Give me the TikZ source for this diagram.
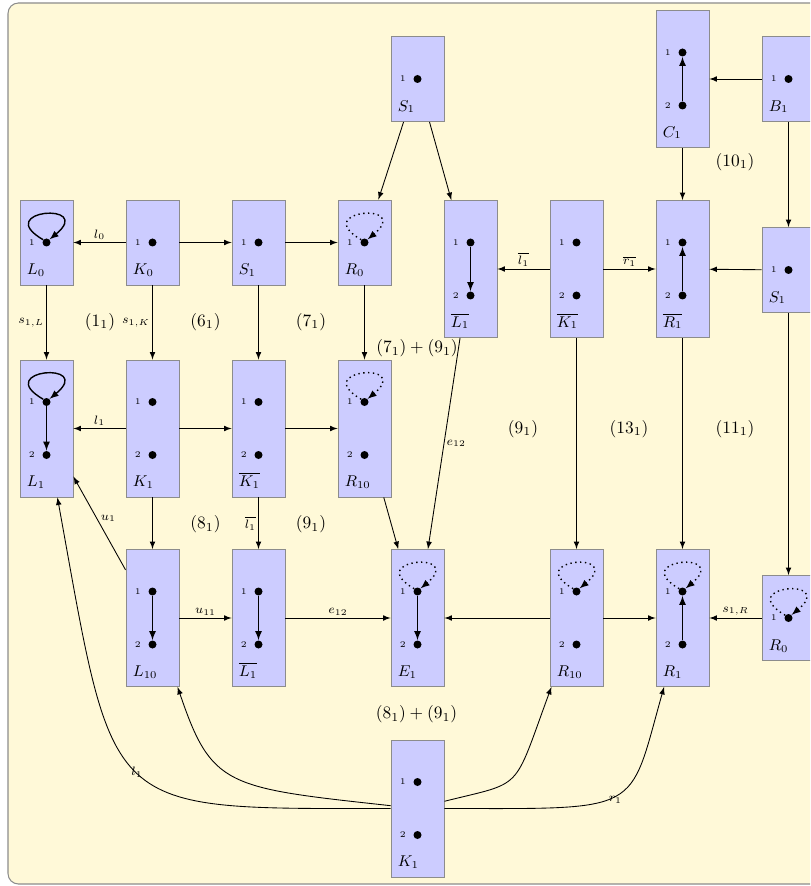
\documentclass[tikz,border=0pt]{standalone}
\usetikzlibrary{calc,positioning,arrows.meta}
\definecolor{bgyellow}{RGB}{255,249,216}
\definecolor{boxblue}{RGB}{204,204,255}
\tikzset{
  bgframe/.style={draw=black!45, line width=0.6pt, fill=bgyellow, rounded corners=6pt},
  gbox/.style={rectangle, draw=black!45, line width=0.5pt, fill=boxblue, minimum width=30.5pt, inner sep=0pt},
  gdot/.style={circle, fill=black, inner sep=0pt, minimum size=4.6pt},
  gnum/.style={font=\tiny, inner sep=0pt},
  glab/.style={font=\small, inner sep=0pt, anchor=base west},
  conn/.style={-latex, line width=0.5pt},
  inedge/.style={-latex, thick},
  sloop/.style={-latex, thick},
  dloop/.style={-latex, thick, dotted},
  elab/.style={font=\scriptsize, inner sep=1.2pt},
  mlab/.style={inner sep=0pt},
}
\newcommand{\gone}[4]{%
  \node[gbox, minimum height=48.9pt] (#1) at (#2,-#3) {};
  \node[gdot] (#1-1) at (#1.center) {};
  \node[gnum, left=4pt of #1-1] (#1-n1) {1};
  \node[glab] (#1-t) at ($(#1.south west)+(7,10.7)$) {$#4$};
}
\newcommand{\gtwo}[4]{%
  \node[gbox, minimum height=78.8pt] (#1) at (#2,-#3) {};
  \node[gdot] (#1-1) at ($(#1.center)+(0,26.5)$) {};
  \node[gdot] (#1-2) at ($(#1.center)+(0,-26.5)$) {};
  \node[gnum, left=4pt of #1-1] (#1-n1) {1};
  \node[gnum, left=4pt of #1-2] (#1-n2) {2};
  \node[glab] (#1-t) at ($(#1.south west)+(7,10.7)$) {$#4$};
}
\newcommand{\gloop}[2]{\draw[#2] (#1.140) .. controls +(-52,30) and +(46,38) .. (#1.45);}
\begin{document}
\begin{tikzpicture}[x=0.575pt, y=0.575pt]
\useasboundingbox (0,0) rectangle (810,-886);
\clip (0,0) rectangle (810,-886);
\draw[bgframe] (8,-3) rectangle (840,-884);

% boxes
\gone{L0}{46.5}{242.5}{L_0}
\gone{K0}{152.5}{242.5}{K_0}
\gone{S1a}{258.5}{242.5}{S_1}
\gone{R0a}{364.5}{242.5}{R_0}
\gone{S1t}{417.5}{79}{S_1}
\gone{B1}{788.5}{79}{B_1}
\gone{S1r}{788.5}{270}{S_1}
\gone{R0r}{788.5}{618}{R_0}
\gtwo{L1bU}{470.5}{269}{\overline{L_1}}
\gtwo{K1bU}{576.5}{269}{\overline{K_1}}
\gtwo{R1b}{682.5}{269}{\overline{R_1}}
\gtwo{C1}{682.5}{79}{C_1}
\gtwo{L1}{46.5}{428.5}{L_1}
\gtwo{K1}{152.5}{428.5}{K_1}
\gtwo{K1b}{258.5}{428.5}{\overline{K_1}}
\gtwo{R10a}{364.5}{428.5}{R_{10}}
\gtwo{L10}{152.5}{618}{L_{10}}
\gtwo{L1bL}{258.5}{618}{\overline{L_1}}
\gtwo{E1}{417.5}{618}{E_1}
\gtwo{R10b}{576.5}{618}{R_{10}}
\gtwo{R1}{682.5}{618}{R_1}
\gtwo{K1d}{417.5}{808.5}{K_1}

% edges inside boxes
\draw[inedge] (L1bU-1) -- (L1bU-2);
\draw[inedge] (R1b-2) -- (R1b-1);
\draw[inedge] (C1-2) -- (C1-1);
\draw[inedge] (L1-1) -- (L1-2);
\draw[inedge] (L10-1) -- (L10-2);
\draw[inedge] (L1bL-1) -- (L1bL-2);
\draw[inedge] (E1-1) -- (E1-2);
\draw[inedge] (R1-2) -- (R1-1);

% loops
\gloop{L0-1}{sloop}
\gloop{L1-1}{sloop}
\gloop{R0a-1}{dloop}
\gloop{R10a-1}{dloop}
\gloop{E1-1}{dloop}
\gloop{R10b-1}{dloop}
\gloop{R1-1}{dloop}
\gloop{R0r-1}{dloop}

% connectors, row 1
\draw[conn] (K0) -- node[elab, above] {$l_0$} (L0);
\draw[conn] (K0) -- (S1a);
\draw[conn] (S1a) -- (R0a);
\draw[conn] (S1t) -- (R0a);
\draw[conn] (S1t) -- (L1bU);
\draw[conn] (K1bU) -- node[elab, above] {$\overline{l_1}$} (L1bU);
\draw[conn] (K1bU) -- node[elab, above] {$\overline{r_1}$} (R1b);
\draw[conn] (S1r) -- (R1b);
\draw[conn] (B1) -- (C1);
\draw[conn] (B1) -- (S1r);
\draw[conn] (C1) -- (R1b);
% row 1 to row 2
\draw[conn] (L0) -- node[elab, left] {$s_{1,L}$} (L1);
\draw[conn] (K0) -- node[elab, left] {$s_{1,K}$} (K1);
\draw[conn] (S1a) -- (K1b);
\draw[conn] (R0a) -- (R10a);
% row 2
\draw[conn] (K1) -- node[elab, above] {$l_1$} (L1);
\draw[conn] (K1) -- (K1b);
\draw[conn] (K1b) -- (R10a);
% row 2 to row 3
\draw[conn] (K1) -- (L10);
\draw[conn] (K1b) -- node[elab, left] {$\overline{l_1}$} (L1bL);
\draw[conn] (R10a) -- (E1);
\draw[conn] (L1bU) -- node[elab, right] {$e_{12}$} (E1);
\draw[conn] (L10) -- node[elab, above right, inner sep=0.5pt] {$u_1$} (L1);
\draw[conn] (K1bU) -- (R10b);
\draw[conn] (R1b) -- (R1);
\draw[conn] (S1r) -- (R0r);
% row 3
\draw[conn] (L10) -- node[elab, above] {$u_{11}$} (L1bL);
\draw[conn] (L1bL) -- node[elab, above] {$e_{12}$} (E1);
\draw[conn] (R10b) -- (E1);
\draw[conn] (R10b) -- (R1);
\draw[conn] (R0r) -- node[elab, above] {$s_{1,R}$} (R1);
% bottom curves
\draw[conn] (K1d.180) .. controls +(-290,0) and +(58,-320) .. (L1.-81)
  node[elab, pos=0.47, above left, inner sep=0.8pt] {$l_1$};
\draw[conn] (K1d.174) .. controls +(-165,18) and +(34,-100) .. (L10.-70);
\draw[conn] (K1d.15) .. controls +(80,20) and +(-39,-106) .. (R10b.-110);
\draw[conn] (K1d.0) .. controls +(200,0) and +(-36,-128) .. (R1.-105)
  node[elab, pos=0.45, right, inner sep=0.5pt] {$r_1$};

% region labels
\node[mlab] (m1) at (100,-322) {$(1_1)$};
\node[mlab] (m6) at (205.5,-322) {$(6_1)$};
\node[mlab] (m7) at (311,-322) {$(7_1)$};
\node[mlab] (m79) at (417,-348.5) {$(7_1)+(9_1)$};
\node[mlab] (m10) at (735,-162) {$(10_1)$};
\node[mlab] (m8) at (205.5,-524.5) {$(8_1)$};
\node[mlab] (m9a) at (311,-524.5) {$(9_1)$};
\node[mlab] (m9b) at (523,-429) {$(9_1)$};
\node[mlab] (m13) at (629,-429) {$(13_1)$};
\node[mlab] (m11) at (735,-429) {$(11_1)$};
\node[mlab] (m89) at (416.5,-714.5) {$(8_1)+(9_1)$};
\end{tikzpicture}
\end{document}
